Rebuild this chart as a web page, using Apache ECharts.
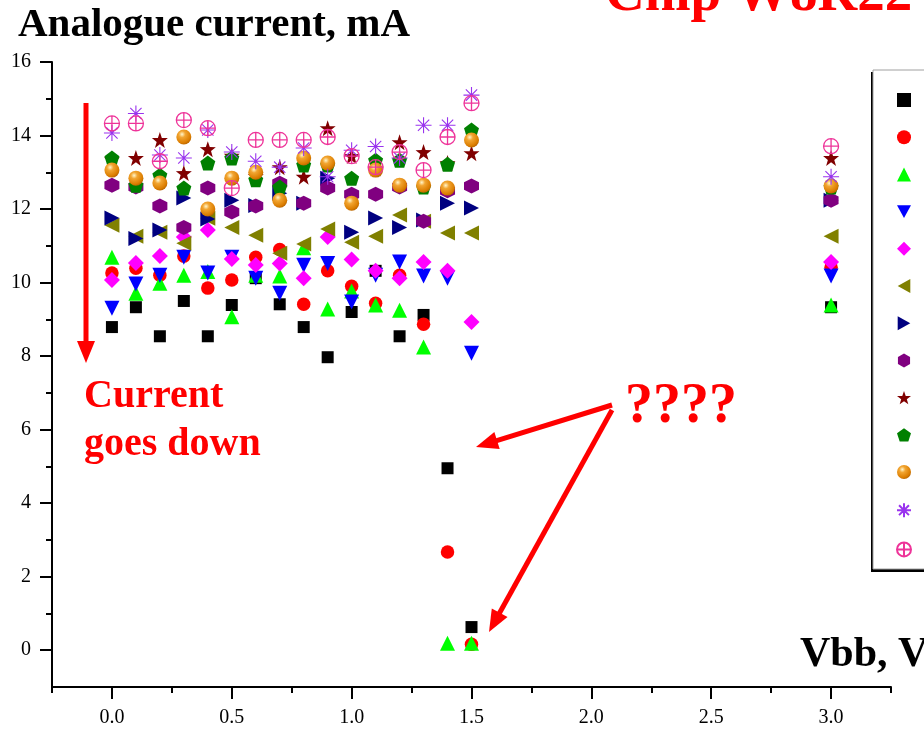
<!DOCTYPE html>
<html>
<head>
<meta charset="utf-8">
<script src="https://cdn.jsdelivr.net/npm/echarts@6/dist/echarts.min.js"></script>
<style>
  html, body { margin: 0; padding: 0; background: #fff; }
  #chart { width: 924px; height: 731px; }
</style>
</head>
<body>
<div id="chart"></div>
<script>
// Bias voltage Vbb (V)
const vbb = [0.0, 0.1, 0.2, 0.3, 0.4, 0.5, 0.6, 0.7, 0.8, 0.9, 1.0, 1.1, 1.2, 1.3, 1.4, 1.5, 3.0];

// Analogue current (mA), one array per chip channel
const ch1  = [8.79, 9.33, 8.54, 9.50, 8.54, 9.39, 10.12, 9.41, 8.79, 7.97, 9.20, 10.32, 8.54, 9.12, 4.95, 0.63, 9.33];
const ch2  = [10.26, 10.39, 10.20, 10.72, 9.85, 10.07, 10.69, 10.90, 9.41, 10.32, 9.90, 9.44, 10.20, 8.87, 2.67, 0.16, 10.42];
const ch3  = [10.69, 9.71, 9.98, 10.20, 10.30, 9.07, 10.20, 10.18, 10.95, 9.28, 9.77, 9.39, 9.25, 8.25, 0.19, 0.19, 9.39];
const ch4  = [9.30, 9.96, 10.20, 10.69, 10.26, 10.69, 10.12, 9.71, 10.47, 10.52, 9.47, 10.20, 10.56, 10.18, 10.12, 8.08, 10.18];
const ch5  = [10.07, 10.53, 10.72, 11.24, 11.43, 10.64, 10.48, 10.52, 10.12, 11.24, 10.63, 10.32, 10.12, 10.56, 10.32, 8.93, 10.56];
const ch6  = [11.56, 11.26, 11.37, 11.07, 11.75, 11.50, 11.29, 10.80, 11.05, 11.46, 11.10, 11.26, 11.84, 11.67, 11.35, 11.35, 11.26];
const ch7  = [11.76, 11.20, 11.43, 12.30, 11.73, 12.24, 12.10, 12.43, 12.16, 12.84, 11.37, 11.76, 11.50, 11.70, 12.16, 12.03, 12.24];
const ch8  = [12.65, 12.60, 12.08, 11.50, 12.57, 11.92, 12.08, 12.70, 12.16, 12.57, 12.40, 12.40, 12.60, 11.67, 12.50, 12.63, 12.24];
const ch9  = [13.35, 13.39, 13.88, 12.98, 13.63, 13.45, 12.90, 13.14, 12.88, 14.20, 13.44, 13.10, 13.82, 13.55, 13.25, 13.52, 13.39];
const ch10 = [13.39, 12.65, 12.92, 12.57, 13.25, 13.39, 12.80, 12.60, 13.20, 13.20, 12.84, 13.33, 13.33, 12.60, 13.22, 14.15, 12.60];
const ch11 = [13.06, 12.84, 12.71, 13.96, 12.00, 12.84, 13.00, 12.24, 13.39, 13.25, 12.16, 13.06, 12.65, 12.65, 12.57, 13.88, 12.63];
const ch12 = [14.07, 14.60, 13.47, 13.39, 14.15, 13.55, 13.30, 13.14, 13.66, 12.88, 13.60, 13.70, 13.39, 14.28, 14.28, 15.10, 12.88];
const ch13 = [14.33, 14.33, 13.30, 14.42, 14.20, 12.57, 13.88, 13.88, 13.88, 13.96, 13.44, 13.14, 13.55, 13.06, 13.96, 14.88, 13.71];

const channelNames = ['Ch 1', 'Ch 2', 'Ch 3', 'Ch 4', 'Ch 5', 'Ch 6', 'Ch 7', 'Ch 8', 'Ch 9', 'Ch 10', 'Ch 11', 'Ch 12', 'Ch 13'];
const channelValues = [ch1, ch2, ch3, ch4, ch5, ch6, ch7, ch8, ch9, ch10, ch11, ch12, ch13];

// Axis tick positions
const xMajorTicks = [0, 0.5, 1.0, 1.5, 2.0, 2.5, 3.0];
const xMinorTicks = [-0.25, 0.25, 0.75, 1.25, 1.75, 2.25, 2.75, 3.25];
const yMajorTicks = [0, 2, 4, 6, 8, 10, 12, 14, 16];
const yMinorTicks = [1, 3, 5, 7, 9, 11, 13, 15];

const SERIF = '"Liberation Serif", "Times New Roman", "DejaVu Serif", serif';

// Marker shapes
const TRI_DOWN = 'path://M0,0 L20,0 L10,18 Z';
const TRI_LEFT = 'path://M18,0 L18,20 L0,10 Z';
const TRI_RIGHT = 'path://M0,0 L0,20 L18,10 Z';
const HEXAGON = 'path://M10,0 L18.66,5 L18.66,15 L10,20 L1.34,15 L1.34,5 Z';
const STAR = 'path://M10,0 L12.35,6.76 L19.51,6.91 L13.8,11.24 L15.88,18.09 L10,14 L4.12,18.09 L6.2,11.24 L0.49,6.91 L7.65,6.76 Z';
const PENTAGON = 'path://M10,0 L19.51,6.91 L15.88,18.09 L4.12,18.09 L0.49,6.91 Z';
const ASTERISK = 'path://M10,0 L10,20 M0,10 L20,10 M2.93,2.93 L17.07,17.07 M17.07,2.93 L2.93,17.07 M11.3,10 A1.3,1.3 0 1,1 8.7,10 A1.3,1.3 0 1,1 11.3,10 Z';
const CIRCLE_CROSS = 'path://M0,10 A10,10 0 1,1 20,10 A10,10 0 1,1 0,10 Z M10,0 L10,20 M0,10 L20,10';

const sphere = {
  type: 'radial', x: 0.38, y: 0.32, r: 0.72,
  colorStops: [
    { offset: 0, color: '#fff6cc' },
    { offset: 0.3, color: '#f2a531' },
    { offset: 0.8, color: '#db7d00' },
    { offset: 1, color: '#b56300' }
  ]
};

const markerStyles = [
  { symbol: 'rect', size: 12, item: { color: '#000000' } },
  { symbol: 'circle', size: 13.5, item: { color: '#ff0000' } },
  { symbol: 'triangle', size: 15, item: { color: '#00ff00' } },
  { symbol: TRI_DOWN, size: 15, item: { color: '#0000ff' } },
  { symbol: 'diamond', size: 16, item: { color: '#ff00ff' } },
  { symbol: TRI_LEFT, size: 15, item: { color: '#808000' } },
  { symbol: TRI_RIGHT, size: 15, item: { color: '#000080' } },
  { symbol: HEXAGON, size: 15, item: { color: '#800080' } },
  { symbol: STAR, size: 16, item: { color: '#800000' } },
  { symbol: PENTAGON, size: 15, item: { color: '#008000' } },
  { symbol: 'circle', size: 15, item: { color: sphere } },
  { symbol: ASTERISK, size: 16, item: { color: '#9933ee', borderColor: '#9933ee', borderWidth: 1.1 } },
  { symbol: CIRCLE_CROSS, size: 15, item: { color: 'rgba(0,0,0,0)', borderColor: '#ee3399', borderWidth: 1.3 } }
];

const series = channelNames.map((name, i) => ({
  name: name,
  type: 'scatter',
  xAxisIndex: 0,
  yAxisIndex: 0,
  symbol: markerStyles[i].symbol,
  symbolSize: markerStyles[i].size,
  itemStyle: Object.assign({ opacity: 1 }, markerStyles[i].item),
  emphasis: { disabled: true },
  data: vbb.map((v, k) => [v, channelValues[i][k]])
}));

// Filled arrow from (x1,y1) to tip (x2,y2)
function arrow(x1, y1, x2, y2, width, headLen, headHalf) {
  const dx = x2 - x1, dy = y2 - y1;
  const len = Math.sqrt(dx * dx + dy * dy);
  const ux = dx / len, uy = dy / len;
  const bx = x2 - ux * headLen, by = y2 - uy * headLen;
  const nx = -uy, ny = ux;
  return [
    { type: 'line', z: 20, shape: { x1: x1, y1: y1, x2: bx + ux * 2, y2: by + uy * 2 },
      style: { stroke: '#ff0000', lineWidth: width } },
    { type: 'polygon', z: 20,
      shape: { points: [[x2, y2], [bx + nx * headHalf, by + ny * headHalf], [bx - nx * headHalf, by - ny * headHalf]] },
      style: { fill: '#ff0000' } }
  ];
}

function label(text, x, y, size, color) {
  return { type: 'text', z: 20, x: x, y: y,
    style: { text: text, fill: color, font: 'bold ' + size + 'px ' + SERIF, textVerticalAlign: 'middle', verticalAlign: 'middle', align: 'left' } };
}

const graphics = [
  // legend frame with drop shadow
  { type: 'rect', z: 1, shape: { x: 871, y: 72, width: 200, height: 500 }, style: { fill: '#000' } },
  { type: 'rect', z: 1, shape: { x: 873, y: 70, width: 200, height: 499 }, style: { fill: '#fff', stroke: '#a0a0a0', lineWidth: 1 } },
  label('Analogue current, mA', 18, 25, 41, '#000'),
  label('Chip W8R22', 605, -4, 55, '#ff0000'),
  label('Vbb, V', 800, 655, 42, '#000'),
  label('Current', 84, 397, 40, '#ff0000'),
  label('goes down', 84, 445, 40, '#ff0000'),
  label('????', 625, 408, 56, '#ff0000')
].concat(
  arrow(86, 103, 86, 363, 5, 22, 9),
  arrow(612, 405, 476, 447, 5, 22, 9),
  arrow(612, 410, 489, 632, 5, 22, 9)
);

const axisFont = { fontFamily: SERIF, fontSize: 20, color: '#000' };

const option = {
  animation: false,
  backgroundColor: '#ffffff',
  grid: { left: 52, right: 33, top: 62, bottom: 44, containLabel: false, outerBoundsMode: 'none' },
  xAxis: [
    {
      type: 'value', min: -0.25, max: 3.25, interval: 0.25,
      axisLine: { onZero: false, lineStyle: { color: '#000', width: 2 } },
      axisTick: { inside: false, length: 12, lineStyle: { color: '#000', width: 2 }, customValues: xMajorTicks },
      axisLabel: Object.assign({ margin: 21, customValues: xMajorTicks, formatter: v => v.toFixed(1) }, axisFont),
      splitLine: { show: false }
    },
    {
      type: 'value', min: -0.25, max: 3.25, interval: 0.25, position: 'bottom',
      axisLine: { show: false, onZero: false },
      axisTick: { length: 6, lineStyle: { color: '#000', width: 2 }, customValues: xMinorTicks },
      axisLabel: { show: false },
      splitLine: { show: false }
    }
  ],
  yAxis: [
    {
      type: 'value', min: -1, max: 16, interval: 1,
      axisLine: { show: true, onZero: false, lineStyle: { color: '#000', width: 2 } },
      axisTick: { show: true, length: 12, lineStyle: { color: '#000', width: 2 }, customValues: yMajorTicks },
      axisLabel: Object.assign({ margin: 21, customValues: yMajorTicks }, axisFont),
      splitLine: { show: false }
    },
    {
      type: 'value', min: -1, max: 16, interval: 1, position: 'left',
      axisLine: { show: false, onZero: false },
      axisTick: { show: true, length: 6, lineStyle: { color: '#000', width: 2 }, customValues: yMinorTicks },
      axisLabel: { show: false },
      splitLine: { show: false }
    }
  ],
  legend: {
    z: 5,
    orient: 'vertical',
    left: 896,
    top: 93,
    padding: 0,
    itemWidth: 14,
    itemHeight: 14,
    itemGap: 23.2,
    selectedMode: false,
    textStyle: { fontFamily: SERIF, fontSize: 12, lineHeight: 14, color: '#000', padding: [0, 0, 0, 40] },
    data: channelNames
  },
  graphic: graphics,
  series: series
};

const chart = echarts.init(document.getElementById('chart'), null, { renderer: 'canvas' });
chart.setOption(option);
</script>
</body>
</html>
